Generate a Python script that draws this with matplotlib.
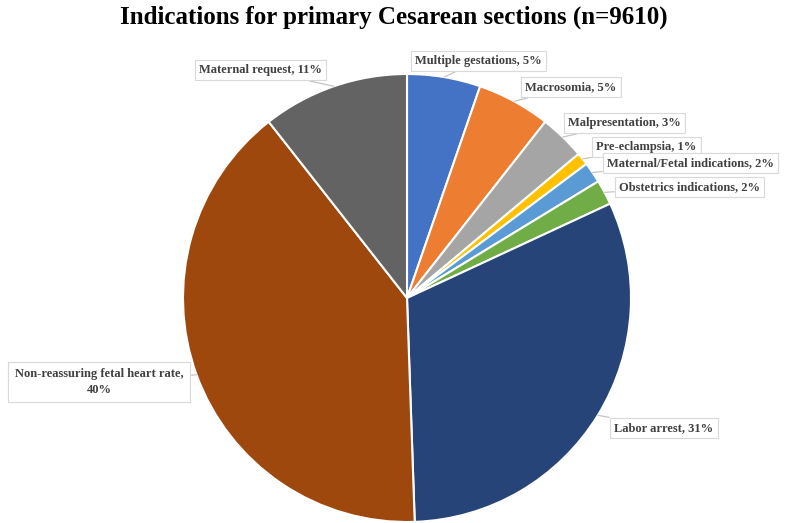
import numpy as np
import matplotlib
matplotlib.use('Agg')
from matplotlib import pyplot as plt

# slices clockwise from 12 o'clock, values in percent
indications = ['Multiple gestations', 'Macrosomia', 'Malpresentation', 'Pre-eclampsia',
               'Maternal/Fetal indications', 'Obstetrics indications', 'Labor arrest',
               'Non-reassuring fetal heart rate', 'Maternal request']
percents = [5.3, 5.3, 3.3, 0.9, 1.5, 1.8, 31.4, 40.0, 10.6]
shown_pct = [5, 5, 3, 1, 2, 2, 31, 40, 11]
colors = ['#4472C4', '#ED7D31', '#A5A5A5', '#FFC000', '#5B9BD5', '#70AD47',
          '#264478', '#9E480E', '#636363']

# where the label boxes sit (pixel coords, y from bottom)
label_pos = [(415, 462), (525, 436), (568, 400), (596, 376), (607, 360), (619, 336),
             (614, 95), (99, 141), (199, 453)]
label_ha = ['left', 'left', 'left', 'left', 'left', 'left', 'left', 'center', 'left']

plt.rcParams['font.family'] = ['Liberation Serif', 'DejaVu Serif']

fig = plt.figure(figsize=(7.87, 5.23), dpi=100)
ax = fig.add_axes([0, 0, 1, 1])

cx, cy, r = 407, 225, 224
wedges, _ = ax.pie(percents, colors=colors, startangle=90, counterclock=False,
                   center=(cx, cy), radius=r, frame=True,
                   wedgeprops=dict(edgecolor='white', linewidth=1.5))
ax.set_xlim(0, 787)
ax.set_ylim(0, 523)
ax.set_aspect('equal')
ax.axis('off')

for i, w in enumerate(wedges):
    mid = np.deg2rad((w.theta1 + w.theta2) / 2)
    px = cx + r * np.cos(mid)
    py = cy + r * np.sin(mid)
    if indications[i] == 'Non-reassuring fetal heart rate':
        txt = indications[i] + ',\n' + str(shown_pct[i]) + '%'
        pad = 0.5
    else:
        txt = indications[i] + ', ' + str(shown_pct[i]) + '%'
        pad = 0.35
    ax.annotate(txt, xy=(px, py), xytext=label_pos[i], ha=label_ha[i], va='center',
                fontsize=9, fontweight='bold', color='#404040', linespacing=1.35,
                bbox=dict(boxstyle='square,pad=' + str(pad), fc='white', ec='#d9d9d9', lw=0.8),
                arrowprops=dict(arrowstyle='-', color='#bfbfbf', lw=0.8,
                                shrinkA=0, shrinkB=0))

fig.text(0.5, 0.966, 'Indications for primary Cesarean sections (n=9610)',
         ha='center', va='center', fontsize=18, fontweight='bold', color='black')

plt.savefig('out.png', dpi=100)
